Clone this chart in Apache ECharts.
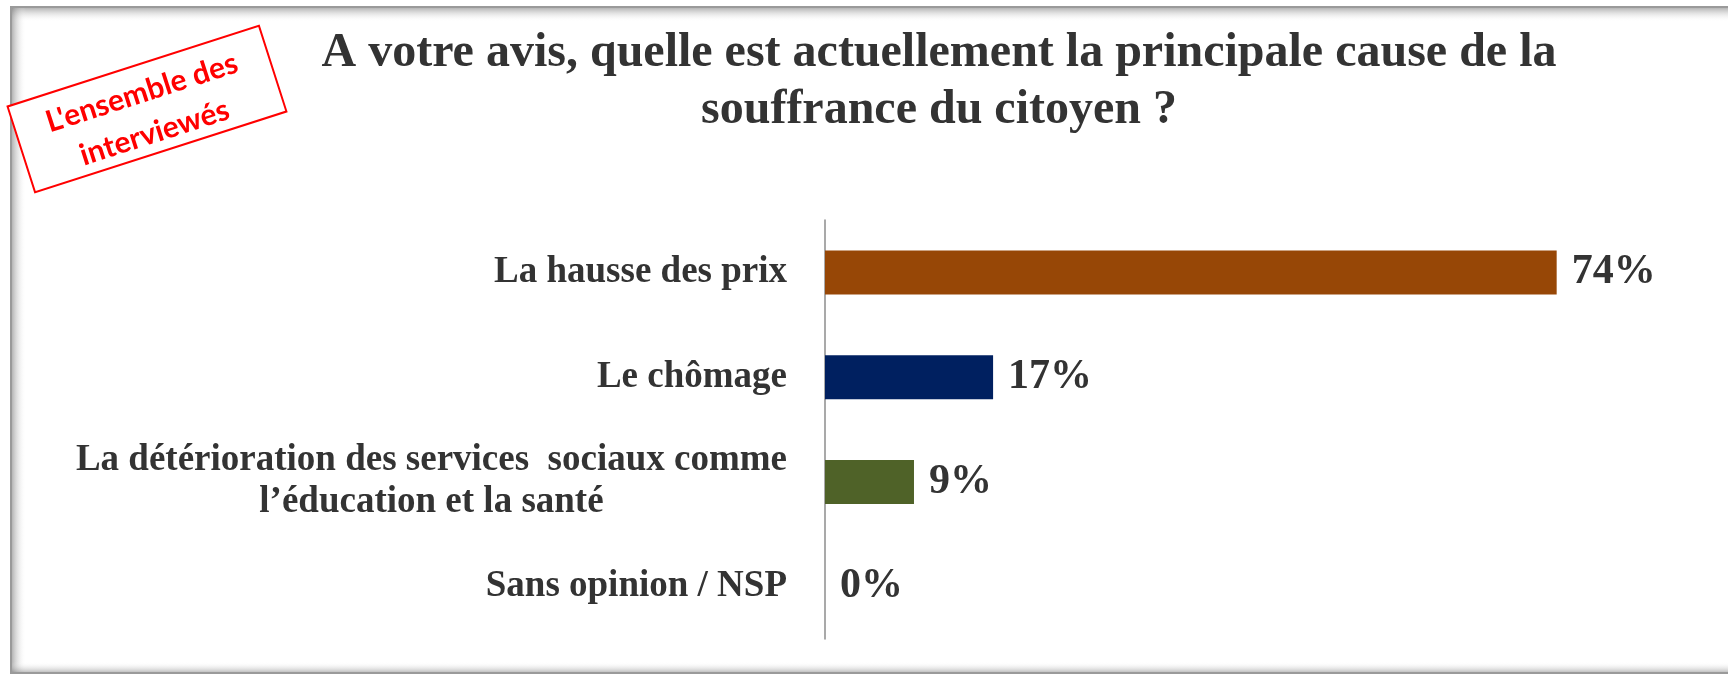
<!DOCTYPE html>
<html>
<head>
<meta charset="utf-8">
<style>
  html, body { margin: 0; padding: 0; background: #fff; }
  #chart { width: 1728px; height: 678px; }
</style>
<script src="https://cdn.jsdelivr.net/npm/echarts@6/dist/echarts.min.js"></script>
</head>
<body>
<div id="chart"></div>
<script>
// données
var categories = [
  'La hausse des prix',
  'Le chômage',
  'La détérioration des services  sociaux comme\nl’éducation et la santé',
  'Sans opinion / NSP'
]
var values = [74, 17, 9, 0]
var barColors = ['#974706', '#002060', '#4f6228', '#7f7f7f']

var serif = '"Liberation Serif", "Times New Roman", serif'
var chart = echarts.init(document.getElementById('chart'))

var option = {
  backgroundColor: '#fff',
  title: {
    text: 'A votre avis, quelle est actuellement la principale cause de la\nsouffrance du citoyen ?',
    left: 934,
    top: 20,
    textAlign: 'center',
    textStyle: {
      fontFamily: serif,
      fontWeight: 'bold',
      fontSize: 48,
      lineHeight: 57,
      color: '#333'
    }
  },
  grid: {
    left: 825,
    right: 112,
    top: 220,
    bottom: 39,
    containLabel: false
  },
  xAxis: {
    type: 'value',
    min: 0,
    max: 80,
    show: false
  },
  yAxis: {
    type: 'category',
    inverse: true,
    data: categories,
    axisTick: { show: false },
    axisLine: { lineStyle: { color: '#8c8c8c', width: 1.5 } },
    axisLabel: {
      align: 'right',
      margin: 38,
      formatter: function (v) { return '{c|' + v + '}' },
      rich: {
        c: {
          align: 'center',
          fontFamily: serif,
          fontWeight: 'bold',
          fontSize: 37,
          lineHeight: 42,
          color: '#333'
        }
      }
    }
  },
  series: [
    {
      type: 'bar',
      barWidth: 44,
      data: values.map(function (v, i) {
        return { value: v, itemStyle: { color: barColors[i] } }
      }),
      label: {
        show: true,
        position: 'right',
        distance: 15,
        formatter: '{c}%',
        fontFamily: serif,
        fontWeight: 'bold',
        fontSize: 42,
        color: '#333'
      },
      silent: true
    }
  ],
  graphic: [
    // cadre gris avec ombre intérieure
    { type: 'rect', shape: { x: 12, y: 8, width: 1800, height: 14 },
      style: { fill: new echarts.graphic.LinearGradient(0, 0, 0, 1, [{ offset: 0, color: 'rgba(120,120,120,0.55)' }, { offset: 1, color: 'rgba(255,255,255,0)' }]) }, silent: true },
    { type: 'rect', shape: { x: 12, y: 8, width: 14, height: 664 },
      style: { fill: new echarts.graphic.LinearGradient(0, 0, 1, 0, [{ offset: 0, color: 'rgba(120,120,120,0.55)' }, { offset: 1, color: 'rgba(255,255,255,0)' }]) }, silent: true },
    { type: 'rect', shape: { x: 12, y: 662, width: 1800, height: 10 },
      style: { fill: new echarts.graphic.LinearGradient(0, 0, 0, 1, [{ offset: 0, color: 'rgba(255,255,255,0)' }, { offset: 1, color: 'rgba(120,120,120,0.45)' }]) }, silent: true },
    { type: 'rect', shape: { x: 11, y: 7, width: 1800, height: 666 },
      style: { fill: 'none', stroke: '#9a9a9a', lineWidth: 2 }, silent: true },
    // tampon rouge
    {
      type: 'group',
      x: 147,
      y: 109,
      rotation: 17.8 * Math.PI / 180,
      children: [
        { type: 'rect', shape: { x: -132, y: -45, width: 264, height: 90 },
          style: { fill: '#fff', stroke: '#ff0000', lineWidth: 2 } },
        { type: 'text', x: 0, y: 4,
          style: {
            text: 'L\'ensemble des\ninterviewés',
            align: 'center',
            verticalAlign: 'middle',
            fontFamily: 'Lato, "Open Sans", sans-serif',
            fontWeight: 'bold',
            fontSize: 30,
            lineHeight: 42,
            fill: '#ff0000'
          } }
      ]
    }
  ]
}
chart.setOption(option)
</script>
</body>
</html>
